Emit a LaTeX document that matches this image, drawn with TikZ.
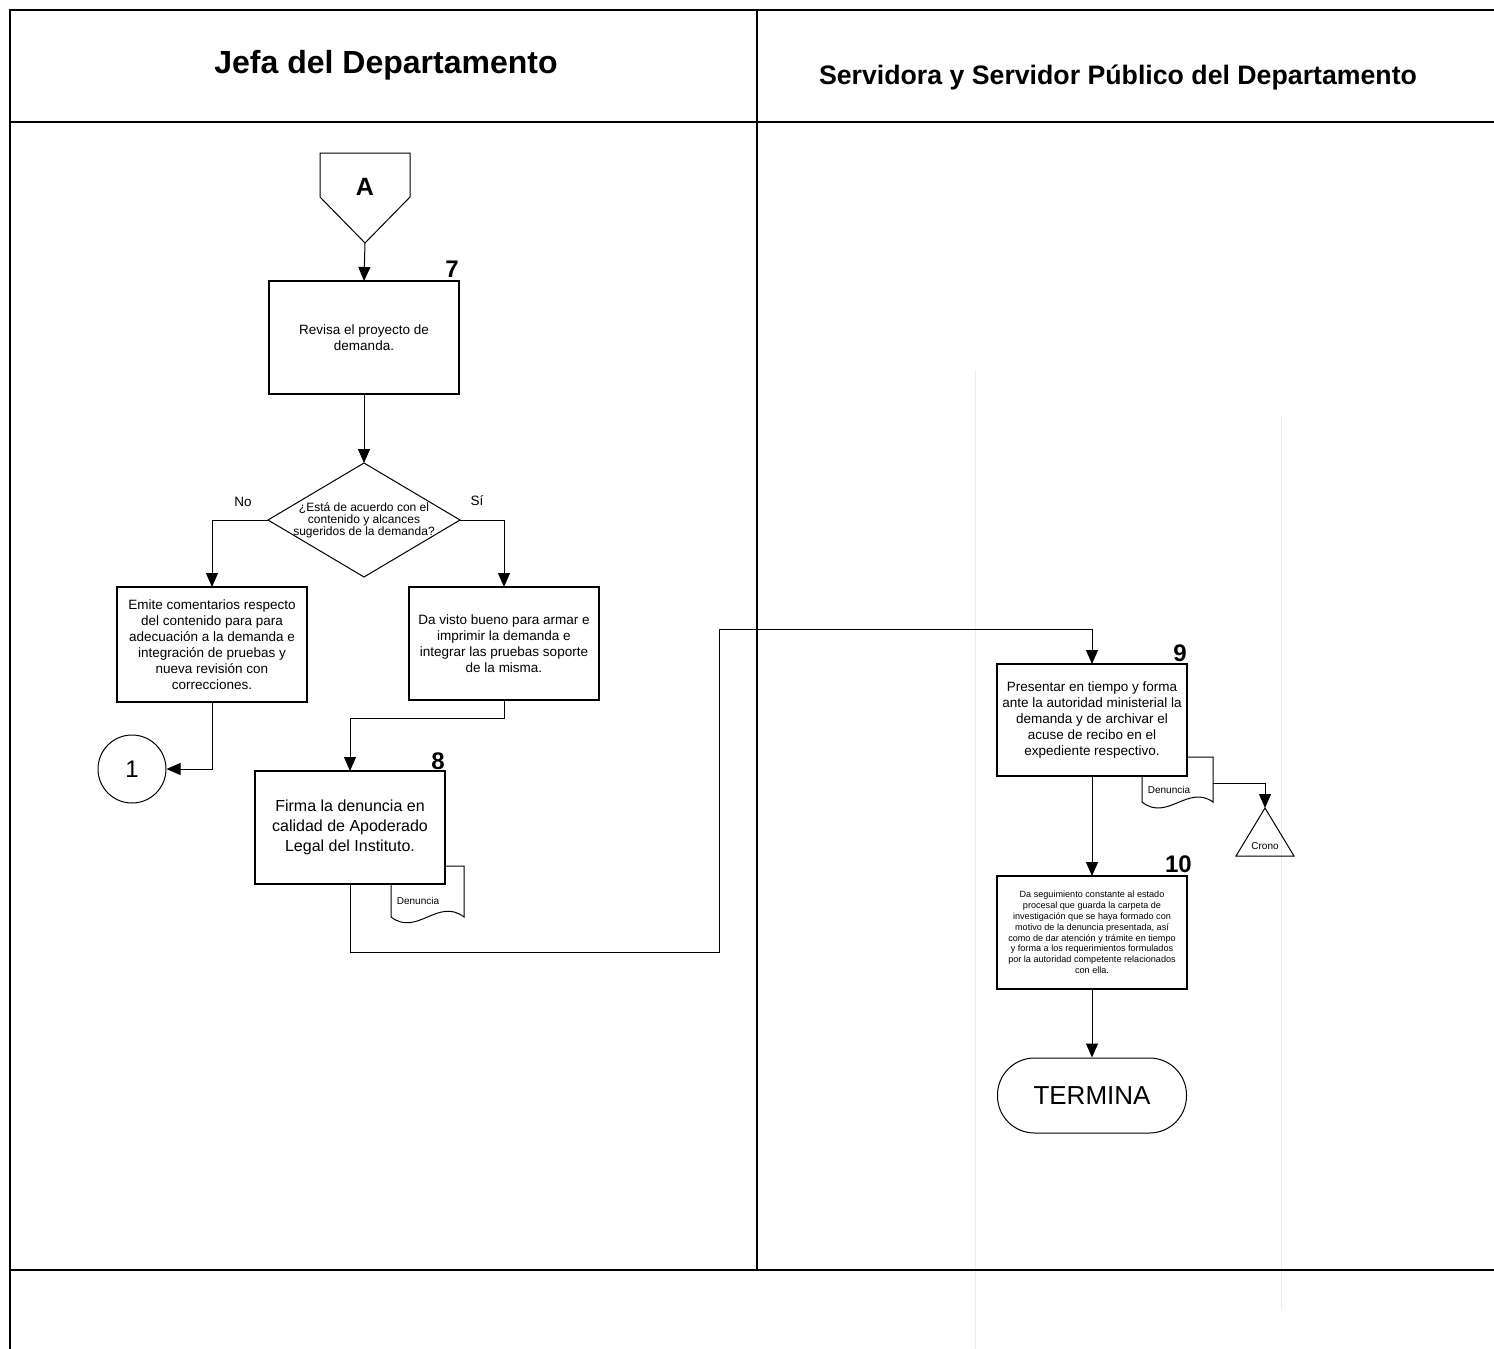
\documentclass[tikz,border=0pt]{standalone}
\usepackage{fontspec}
\setmainfont{Liberation Sans}
\usetikzlibrary{arrows.meta,shapes.geometric}
\begin{document}
\begin{tikzpicture}[x=1pt,y=-1pt,
  frame/.style={line width=2.4pt},
  stepbox/.style={draw,line width=1.2pt,fill=white,minimum width=190pt,align=center,
    inner sep=2pt,outer sep=0pt,font=\fontsize{13.5}{16}\selectfont},
  flow/.style={line width=1pt,-{Triangle[length=14pt,width=12pt]}},
  link/.style={line width=1pt},
  num/.style={font=\bfseries\fontsize{24}{24}\selectfont,anchor=base east,inner sep=0pt},
  doc/.style={draw,line width=1pt,fill=white},
  tag/.style={font=\fontsize{10}{12}\selectfont},
  lbl/.style={font=\fontsize{13.5}{16}\selectfont},
  scanline/.style={draw=gray!14,line width=0.8pt},
]
\useasboundingbox (0,0) rectangle (1494,1349);

% faint guide lines in the right lane
\draw[scanline] (975,370) -- (975,1349);
\draw[scanline] (1281,415) -- (1281,1310);

% swimlane frame
\draw[frame] (1494,10) -- (10,10) -- (10,1349);
\draw[frame] (10,122) -- (1494,122);
\draw[frame] (10,1270) -- (1494,1270);
\draw[frame] (757,10) -- (757,1270);

% lane headers
\node[font=\bfseries\fontsize{32}{32}\selectfont] (h1) at (386,65) {Jefa del Departamento};
\node[font=\bfseries\fontsize{26.7}{26.7}\selectfont] (h2) at (1118,77) {Servidora y Servidor Público del Departamento};

% off-page connector A
\draw[link] (320,153) -- (410,153) -- (410,197) -- (365,243) -- (320,197) -- cycle;
\coordinate (atip) at (365,243);
\node[font=\bfseries\fontsize{25}{25}\selectfont] (A) at (365,187) {A};

% step 7
\node[stepbox,minimum height=113pt] (s7) at (364,337.5) {Revisa el proyecto de\\demanda.};
\node[num] (n7) at (459,277) {7};
\draw[flow] (atip) -- (s7.north);

% decision
\node[draw,diamond,line width=1pt,minimum width=192pt,minimum height=114pt,
      inner sep=0pt,outer sep=0pt] (dec) at (364,520) {};
\node[font=\fontsize{12}{12}\selectfont,align=center,inner sep=0pt] (decq) at (364,520)
  {¿Está de acuerdo con el\\contenido y alcances\\sugeridos de la demanda?};
\draw[flow] (s7.south) -- (dec.north);

\node[lbl] (no) at (243,502) {No};
\node[lbl] (si) at (477,501) {Sí};

\node[stepbox,minimum height=115pt] (s7no) at (212,644.5)
  {Emite comentarios respecto\\del contenido para para\\adecuación a la demanda e\\integración de pruebas y\\nueva revisión con\\correcciones.};
\node[stepbox,minimum height=113pt] (s7si) at (504,643.5)
  {Da visto bueno para armar e\\imprimir la demanda e\\integrar las pruebas soporte\\de la misma.};
\draw[flow] (dec.west) -| (s7no.north);
\draw[flow] (dec.east) -| (s7si.north);

% connector 1
\node[draw,circle,line width=1pt,minimum size=68pt,inner sep=0pt,
      font=\fontsize{24}{24}\selectfont] (c1) at (132,769) {1};
\draw[flow] (s7no.south) |- (c1.east);

% step 8 with its document
\draw[doc] (391,866) -- (464,866) -- (464,917)
  .. controls (438,897) and (417,937) .. (391,917) -- cycle;
\node[tag] (d8) at (418,901) {Denuncia};
\node[stepbox,minimum height=113pt,font=\fontsize{16}{20}\selectfont] (s8) at (350,827.5)
  {Firma la denuncia en\\calidad de Apoderado\\Legal del Instituto.};
\node[num] (n8) at (445,769) {8};
\draw[flow] (s7si.south) -- ++(0,18) -| (s8.north);

% step 9 with its document
\draw[doc] (1142,757) -- (1213,757) -- (1213,802)
  .. controls (1188,784) and (1167,822) .. (1142,802) -- cycle;
\node[tag] (d9) at (1169,790) {Denuncia};
\node[stepbox,minimum height=112pt] (s9) at (1092,720)
  {Presentar en tiempo y forma\\ante la autoridad ministerial la\\demanda y de archivar el\\acuse de recibo en el\\expediente respectivo.};
\node[num] (n9) at (1187,661) {9};

% hand-over from lane 1 to lane 2
\coordinate (k1) at (350,952);
\coordinate (k2) at (719,952);
\coordinate (k3) at (719,629);
\coordinate (k4) at (1092,629);
\draw[flow] (s8.south) -- (k1) -- (k2) -- (k3) -- (k4) -- (s9.north);

% file (Crono)
\draw[link] (1265,808) -- (1294,856) -- (1236,856) -- cycle;
\coordinate (cr) at (1265,808);
\node[tag] (crono) at (1265,846) {Crono};
\coordinate (d9out) at (1213,783);
\coordinate (dj) at (1265,783);
\draw[flow] (d9out) -- (dj) -- (cr);

% step 10
\node[stepbox,minimum height=113pt,font=\fontsize{9.1}{10.8}\selectfont] (s10) at (1092,932.5)
  {Da seguimiento constante al estado\\procesal que guarda la carpeta de\\investigación que se haya formado con\\motivo de la denuncia presentada, así\\como de dar atención y trámite en tiempo\\y forma a los requerimientos formulados\\por la autoridad competente relacionados\\con ella.};
\node[num] (n10) at (1192,872) {10};
\draw[flow] (s9.south) -- (s10.north);

% terminator
\node[draw,line width=1pt,rounded corners=37pt,minimum width=189pt,minimum height=75pt,
      font=\fontsize{26}{26}\selectfont] (end) at (1092,1095.5) {TERMINA};
\draw[flow] (s10.south) -- (end.north);
\end{tikzpicture}
\end{document}
